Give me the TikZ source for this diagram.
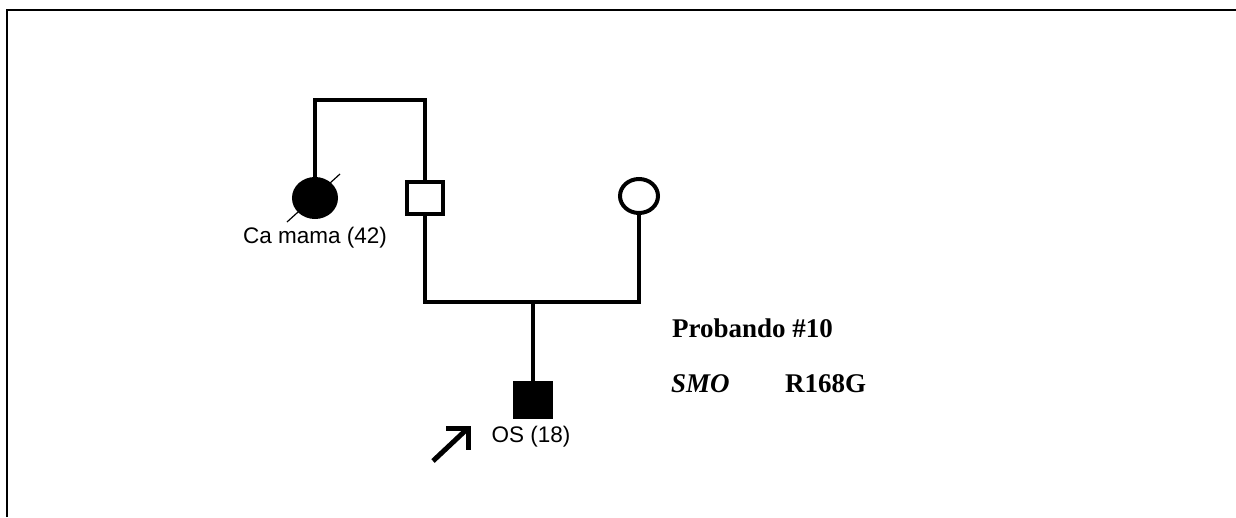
\documentclass[tikz,border=0pt]{standalone}
\usepackage{fontspec}
\usetikzlibrary{shapes.geometric}
\setmainfont{Liberation Serif}
\newfontfamily\arialfont{Liberation Sans}
\begin{document}
\begin{tikzpicture}[x=1pt,y=-1pt,
  ped/.style={line width=4pt},
  frame/.style={line width=2pt},
  lbl/.style={font=\arialfont\fontsize{22.5}{26}\selectfont, inner sep=0pt},
  bold/.style={font=\bfseries\fontsize{27}{31}\selectfont, inner sep=0pt, anchor=west}]
\useasboundingbox (0,0) rectangle (1236,517);
\draw[frame] (7,517) -- (7,10) -- (1236,10);
% individuals
\node[ped, draw, fill=black, ellipse, minimum width=42pt, minimum height=38pt, inner sep=0pt] (gm) at (315,198) {};
\node[ped, draw, fill=white, minimum width=36pt, minimum height=32pt, inner sep=0pt] (gf) at (425,198) {};
\node[ped, draw, fill=white, ellipse, minimum width=38pt, minimum height=34pt, inner sep=0pt] (mo) at (639,196) {};
\node[ped, draw, fill=black, minimum width=36pt, minimum height=34pt, inner sep=0pt] (os) at (533,400) {};
% couple line
\coordinate (tl) at (315,100);
\coordinate (tr) at (425,100);
\draw[ped] (gm.north) -- (tl) -- (tr) -- (gf.north);
\coordinate (ml) at (425,302);
\coordinate (mr) at (639,302);
\coordinate (mm) at (533,302);
\draw[ped] (gf.south) -- (ml) -- (mr) -- (mo.south);
\draw[ped] (mm) -- (os.north);
% deceased slash
\coordinate (d1) at (287,222);
\coordinate (d2) at (340,174);
\draw[line width=1.2pt] (d1) -- (d2);
% labels
\node[lbl] (gml) at (315,238) {Ca mama (42)};
\node[lbl] (osl) at (531,437) {OS (18)};
% proband arrow
\coordinate (a1) at (433,461);
\coordinate (a2) at (466,430);
\draw[line width=5pt] (a1) -- (a2);
\draw[line width=5pt] (446,428) -- (468,428) -- (468,450);
\node[bold] (pr) at (672,328) {Probando \#10};
\node[bold, font=\bfseries\itshape\fontsize{27}{31}\selectfont] (smo) at (671,384) {SMO};
\node[bold] (mut) at (785,384) {R168G};
\end{tikzpicture}
\end{document}
